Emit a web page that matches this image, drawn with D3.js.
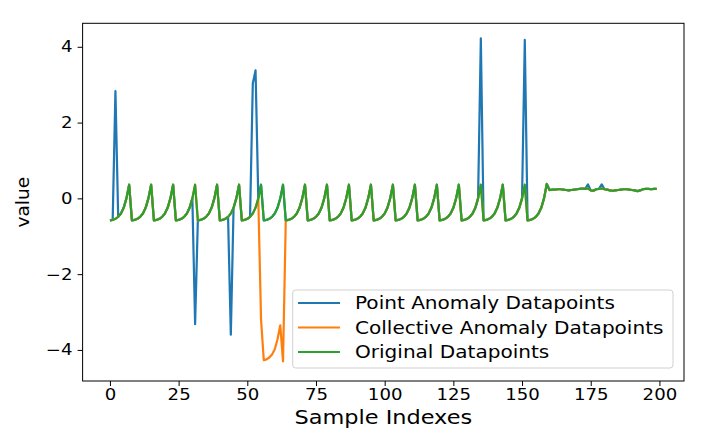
<!DOCTYPE html>
<html>
<head>
<meta charset="utf-8">
<script src="https://cdn.jsdelivr.net/npm/d3@7"></script>
<style>
  html, body { margin: 0; padding: 0; background: #fff; }
  svg { display: block; }
  text { font-family: "DejaVu Sans", sans-serif; fill: #000; }
</style>
</head>
<body>
<svg id="chart" width="704" height="443"></svg>
<script>
// ---- data ----
// Original datapoints (index 0..199): sawtooth of period 8 up to 159, then flat tail
const originalValues = [
  -0.58,-0.57,-0.54,-0.49,-0.40,-0.25,0.00,0.36,
  -0.58,-0.57,-0.54,-0.49,-0.40,-0.25,0.00,0.36,
  -0.58,-0.57,-0.54,-0.49,-0.40,-0.25,0.00,0.36,
  -0.58,-0.57,-0.54,-0.49,-0.40,-0.25,0.00,0.36,
  -0.58,-0.57,-0.54,-0.49,-0.40,-0.25,0.00,0.36,
  -0.58,-0.57,-0.54,-0.49,-0.40,-0.25,0.00,0.36,
  -0.58,-0.57,-0.54,-0.49,-0.40,-0.25,0.00,0.36,
  -0.58,-0.57,-0.54,-0.49,-0.40,-0.25,0.00,0.36,
  -0.58,-0.57,-0.54,-0.49,-0.40,-0.25,0.00,0.36,
  -0.58,-0.57,-0.54,-0.49,-0.40,-0.25,0.00,0.36,
  -0.58,-0.57,-0.54,-0.49,-0.40,-0.25,0.00,0.36,
  -0.58,-0.57,-0.54,-0.49,-0.40,-0.25,0.00,0.36,
  -0.58,-0.57,-0.54,-0.49,-0.40,-0.25,0.00,0.36,
  -0.58,-0.57,-0.54,-0.49,-0.40,-0.25,0.00,0.36,
  -0.58,-0.57,-0.54,-0.49,-0.40,-0.25,0.00,0.36,
  -0.58,-0.57,-0.54,-0.49,-0.40,-0.25,0.00,0.36,
  -0.58,-0.57,-0.54,-0.49,-0.40,-0.25,0.00,0.36,
  -0.58,-0.57,-0.54,-0.49,-0.40,-0.25,0.00,0.36,
  -0.58,-0.57,-0.54,-0.49,-0.40,-0.25,0.00,0.36,
  -0.58,-0.57,-0.54,-0.49,-0.40,-0.25,0.00,0.38,
  0.22,0.23,0.23,0.24,0.24,0.23,0.22,0.21,0.22,0.23,
  0.24,0.25,0.26,0.25,0.26,0.21,0.20,0.24,0.25,0.26,
  0.24,0.23,0.21,0.20,0.21,0.22,0.23,0.24,0.24,0.23,
  0.22,0.21,0.19,0.21,0.24,0.25,0.25,0.24,0.25,0.25
];
// Point anomalies (index, value)
const pointIndexes = [2, 31, 44, 52, 53, 135, 151, 174, 179];
const pointValues  = [2.83, -3.32, -3.60, 3.03, 3.38, 4.22, 4.18, 0.37, 0.37];
// Collective anomaly (index, value)
const collectiveIndexes = [55, 56, 57, 58, 59, 60, 61, 62, 63];
const collectiveValues  = [-3.20, -4.27, -4.25, -4.20, -4.12, -3.98, -3.72, -3.35, -4.30];

const xTicks = [0, 25, 50, 75, 100, 125, 150, 175, 200];
const yTicks = [-4, -2, 0, 2, 4];
const seriesNames = ["Point Anomaly Datapoints", "Collective Anomaly Datapoints", "Original Datapoints"];
const seriesColors = ["#1f77b4", "#ff7f0e", "#2ca02c"];

(function () {
  // ---- build series ----
  const pointSeries = originalValues.slice();
  pointIndexes.forEach((ix, k) => { pointSeries[ix] = pointValues[k]; });
  const collectiveSeries = originalValues.slice();
  collectiveIndexes.forEach((ix, k) => { collectiveSeries[ix] = collectiveValues[k]; });
  const allSeries = [pointSeries, collectiveSeries, originalValues];

  // ---- layout ----
  const pL = 82.6, pR = 684, pT = 23.3, pB = 381;
  const STRETCH = 1.17;
  const svg = d3.select("#chart");

  const x = d3.scaleLinear().domain([-9.95, 208.95]).range([pL, pR]);
  const y = d3.scaleLinear().domain([-4.82, 4.62]).range([pB, pT]);

  const line = d3.line().x((d, i) => x(i)).y(d => y(d));

  const plot = svg.append("g");
  allSeries.forEach((s, k) => {
    plot.append("path")
      .attr("d", line(s))
      .attr("fill", "none")
      .attr("stroke", seriesColors[k])
      .attr("stroke-width", 2.2)
      .attr("stroke-linejoin", "round");
  });

  // axes
  const fmt = d => (d < 0 ? "\u2212" + Math.abs(d) : "" + d);
  const xAxis = svg.append("g").attr("transform", `translate(0,${pB})`)
    .call(d3.axisBottom(x).tickValues(xTicks).tickFormat(fmt).tickSizeOuter(0).tickSize(5).tickPadding(3));
  const yAxis = svg.append("g").attr("transform", `translate(${pL},0)`)
    .call(d3.axisLeft(y).tickValues(yTicks).tickFormat(fmt).tickSizeOuter(0).tickSize(5).tickPadding(5));
  [xAxis, yAxis].forEach(a => {
    a.select(".domain").remove();
    a.selectAll(".tick line").attr("stroke", "#000").attr("stroke-width", 1);
    a.selectAll(".tick text")
      .attr("font-family", "DejaVu Sans")
      .attr("font-size", 15.5)
      .attr("fill", "#000");
  });
  xAxis.selectAll(".tick text").attr("transform", `scale(${STRETCH},1)`);
  yAxis.selectAll(".tick text")
    .attr("x", -10 / STRETCH)
    .attr("transform", `scale(${STRETCH},1)`);

  // frame
  svg.append("rect")
    .attr("x", pL).attr("y", pT)
    .attr("width", pR - pL).attr("height", pB - pT)
    .attr("fill", "none").attr("stroke", "#000").attr("stroke-width", 1);

  // axis labels
  svg.append("text")
    .attr("transform", `translate(${(pL + pR) / 2},424) scale(1.15,1)`)
    .attr("text-anchor", "middle")
    .attr("font-size", 19.5)
    .text("Sample Indexes");
  svg.append("text")
    .attr("transform", `translate(29,${(pT + pB) / 2}) rotate(-90)`)
    .attr("text-anchor", "middle")
    .attr("font-size", 18.5)
    .text("value");

  // legend
  const lg = svg.append("g");
  lg.append("rect")
    .attr("x", 292.7).attr("y", 290).attr("width", 380.3).attr("height", 78)
    .attr("rx", 3).attr("fill", "#fff").attr("fill-opacity", 0.8)
    .attr("stroke", "#d0d0d0").attr("stroke-width", 1);
  const rowY = [303, 327.5, 352];
  seriesNames.forEach((name, k) => {
    lg.append("line")
      .attr("x1", 298).attr("x2", 340)
      .attr("y1", rowY[k]).attr("y2", rowY[k])
      .attr("stroke", seriesColors[k]).attr("stroke-width", 2);
    lg.append("text")
      .attr("transform", `translate(355,${rowY[k] + 6}) scale(1.18,1)`)
      .attr("font-size", 17)
      .text(name);
  });
})();
</script>
</body>
</html>
